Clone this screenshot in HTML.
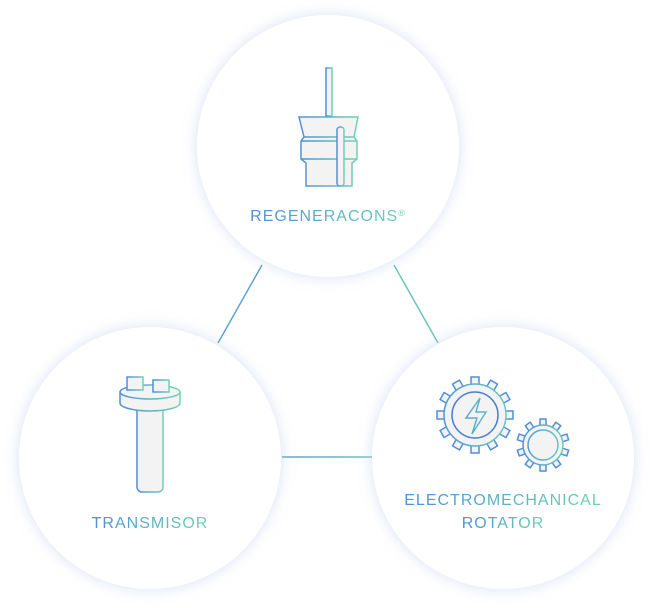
<!DOCTYPE html>
<html><head><meta charset="utf-8"><style>
html,body{margin:0;padding:0;background:#fff;width:654px;height:608px;overflow:hidden}
svg{display:block}
text{font-family:"Liberation Sans",sans-serif;font-size:16px;letter-spacing:1px}
</style></head><body>
<svg width="654" height="608" viewBox="0 0 654 608" xmlns="http://www.w3.org/2000/svg">
<defs>
<linearGradient id="g" x1="0" y1="0" x2="1" y2="0">
<stop offset="0" stop-color="#4f8fdc"/><stop offset="1" stop-color="#6fd3b0"/></linearGradient>
<linearGradient id="gu" gradientUnits="userSpaceOnUse" x1="282" y1="0" x2="372" y2="0">
<stop offset="0" stop-color="#5aa3d4"/><stop offset="1" stop-color="#6cc6b6"/></linearGradient>
<linearGradient id="gb" gradientUnits="userSpaceOnUse" x1="436" y1="0" x2="514" y2="0">
<stop offset="0" stop-color="#4f8fdc"/><stop offset="1" stop-color="#6fd3b0"/></linearGradient>
<linearGradient id="gs" gradientUnits="userSpaceOnUse" x1="517" y1="0" x2="570" y2="0">
<stop offset="0" stop-color="#4f8fdc"/><stop offset="1" stop-color="#6fd3b0"/></linearGradient>
<filter id="sh" x="-30%" y="-30%" width="160%" height="160%">
<feDropShadow dx="0" dy="0" stdDeviation="7" flood-color="#b9c6ec" flood-opacity="0.55"/></filter>
<rect id="tb" x="-4" y="-38" width="8" height="10"/>
<rect id="ts" x="-3" y="-26" width="6" height="8"/>
</defs>
<line x1="262" y1="265" x2="218" y2="343" stroke="#5aa3d4" stroke-width="1.5"/>
<line x1="394" y1="265" x2="438" y2="343" stroke="#6cc6b6" stroke-width="1.5"/>
<line x1="282" y1="457" x2="372" y2="457" stroke="url(#gu)" stroke-width="1.5"/>
<circle cx="328" cy="146" r="131" fill="#fff" filter="url(#sh)"/>
<circle cx="150" cy="458" r="131" fill="#fff" filter="url(#sh)"/>
<circle cx="503" cy="458" r="131" fill="#fff" filter="url(#sh)"/>

<g stroke="url(#g)" stroke-width="1.5" fill="#f3f3f3">
<rect x="326" y="68" width="6" height="48"/>
<path d="M299 117 H358 L354 137 L357 141 V159 L352 163 V186 H306 V163 L301 159 V141 L304 137 Z"/>
<path d="M304 137 H354 M301 141 H357 M301 159 H357" fill="none"/>
<rect x="337" y="127" width="7" height="59" rx="3"/>
</g>
<text x="328" y="221" text-anchor="middle" fill="url(#g)">REGENERACONS<tspan font-size="9" dy="-5">®</tspan></text>

<g stroke="url(#g)" stroke-width="1.5" fill="#f3f3f3">
<rect x="137" y="400" width="26" height="92" rx="5"/>
<path d="M120 392 V403 A30 8 0 0 0 180 403 V392"/>
<ellipse cx="150" cy="392" rx="30" ry="7"/>
<rect x="127" y="377" width="16" height="13"/>
<rect x="153" y="380" width="16" height="12"/>
</g>
<text x="150" y="528" text-anchor="middle" fill="url(#g)">TRANSMISOR</text>

<g stroke="url(#gb)" stroke-width="1.5" fill="#f3f3f3">
<g transform="translate(475 415)">
<use href="#tb"/><use href="#tb" transform="rotate(30)"/><use href="#tb" transform="rotate(60)"/><use href="#tb" transform="rotate(90)"/><use href="#tb" transform="rotate(120)"/><use href="#tb" transform="rotate(150)"/><use href="#tb" transform="rotate(180)"/><use href="#tb" transform="rotate(210)"/><use href="#tb" transform="rotate(240)"/><use href="#tb" transform="rotate(270)"/><use href="#tb" transform="rotate(300)"/><use href="#tb" transform="rotate(330)"/>
</g>
<circle cx="475" cy="415" r="31"/>
<circle cx="475" cy="415" r="23" stroke="#4a7fd8"/>
<path d="M480 398 L466 418 H477 L472 434 L486 412 H476 Z" fill="none"/>
</g>
<g stroke="url(#gs)" stroke-width="1.5" fill="#f3f3f3">
<g transform="translate(543 445)">
<use href="#ts"/><use href="#ts" transform="rotate(36)"/><use href="#ts" transform="rotate(72)"/><use href="#ts" transform="rotate(108)"/><use href="#ts" transform="rotate(144)"/><use href="#ts" transform="rotate(180)"/><use href="#ts" transform="rotate(216)"/><use href="#ts" transform="rotate(252)"/><use href="#ts" transform="rotate(288)"/><use href="#ts" transform="rotate(324)"/>
</g>
<circle cx="543" cy="445" r="20"/>
<circle cx="543" cy="445" r="15"/>
</g>
<text x="503" y="505" text-anchor="middle" fill="url(#g)">ELECTROMECHANICAL</text>
<text x="503" y="528" text-anchor="middle" fill="url(#g)">ROTATOR</text>
</svg>
</body></html>
